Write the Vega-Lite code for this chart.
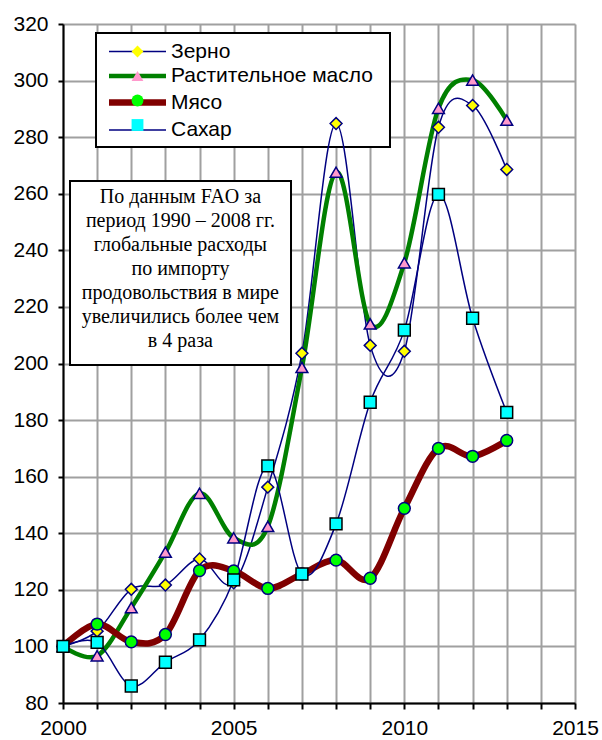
{
  "$schema": "https://vega.github.io/schema/vega-lite/v6.json",
  "width": 512,
  "height": 679,
  "autosize": {"type": "none"},
  "padding": {"left": 63, "top": 24, "right": 27, "bottom": 37},
  "background": "white",
  "config": {
    "view": {"stroke": null},
    "font": "Liberation Sans",
    "axis": {"labelOverlap": false, "labelFlush": false},
    "legend": {"symbolBaseFillColor": {"expr": "['#ffff00','#ff99cc','#00ff00','#00ffff'][indexof(['Зерно','Растительное масло','Мясо','Сахар'], datum.value)]"}}
  },
  "resolve": {"axis": {"x": "independent"}},
  "data": {
    "values": [
      {"year": 2000, "series": "Зерно", "value": 100},
      {"year": 2001, "series": "Зерно", "value": 105.4},
      {"year": 2002, "series": "Зерно", "value": 120.2},
      {"year": 2003, "series": "Зерно", "value": 121.7},
      {"year": 2004, "series": "Зерно", "value": 130.9},
      {"year": 2005, "series": "Зерно", "value": 122.5},
      {"year": 2006, "series": "Зерно", "value": 156.3},
      {"year": 2007, "series": "Зерно", "value": 203.6},
      {"year": 2008, "series": "Зерно", "value": 284.8},
      {"year": 2009, "series": "Зерно", "value": 206.4},
      {"year": 2010, "series": "Зерно", "value": 204.3},
      {"year": 2011, "series": "Зерно", "value": 283.5},
      {"year": 2012, "series": "Зерно", "value": 291.2},
      {"year": 2013, "series": "Зерно", "value": 268.6},
      {"year": 2000, "series": "Растительное масло", "value": 100},
      {"year": 2001, "series": "Растительное масло", "value": 96.7},
      {"year": 2002, "series": "Растительное масло", "value": 113.7},
      {"year": 2003, "series": "Растительное масло", "value": 133.3},
      {"year": 2004, "series": "Растительное масло", "value": 154.1},
      {"year": 2005, "series": "Растительное масло", "value": 138.4},
      {"year": 2006, "series": "Растительное масло", "value": 142.4},
      {"year": 2007, "series": "Растительное масло", "value": 198.6},
      {"year": 2008, "series": "Растительное масло", "value": 267.6},
      {"year": 2009, "series": "Растительное масло", "value": 214},
      {"year": 2010, "series": "Растительное масло", "value": 235.6},
      {"year": 2011, "series": "Растительное масло", "value": 290.2},
      {"year": 2012, "series": "Растительное масло", "value": 300.2},
      {"year": 2013, "series": "Растительное масло", "value": 286},
      {"year": 2000, "series": "Мясо", "value": 100},
      {"year": 2001, "series": "Мясо", "value": 107.9},
      {"year": 2002, "series": "Мясо", "value": 101.6},
      {"year": 2003, "series": "Мясо", "value": 104.2},
      {"year": 2004, "series": "Мясо", "value": 126.8},
      {"year": 2005, "series": "Мясо", "value": 126.7},
      {"year": 2006, "series": "Мясо", "value": 120.5},
      {"year": 2007, "series": "Мясо", "value": 125.6},
      {"year": 2008, "series": "Мясо", "value": 130.5},
      {"year": 2009, "series": "Мясо", "value": 124.1},
      {"year": 2010, "series": "Мясо", "value": 148.8},
      {"year": 2011, "series": "Мясо", "value": 170},
      {"year": 2012, "series": "Мясо", "value": 167.2},
      {"year": 2013, "series": "Мясо", "value": 172.8},
      {"year": 2000, "series": "Сахар", "value": 100},
      {"year": 2001, "series": "Сахар", "value": 101.4},
      {"year": 2002, "series": "Сахар", "value": 86},
      {"year": 2003, "series": "Сахар", "value": 94.4},
      {"year": 2004, "series": "Сахар", "value": 102.3},
      {"year": 2005, "series": "Сахар", "value": 123.5},
      {"year": 2006, "series": "Сахар", "value": 163.8},
      {"year": 2007, "series": "Сахар", "value": 125.6},
      {"year": 2008, "series": "Сахар", "value": 143.3},
      {"year": 2009, "series": "Сахар", "value": 186.3},
      {"year": 2010, "series": "Сахар", "value": 211.8},
      {"year": 2011, "series": "Сахар", "value": 259.8},
      {"year": 2012, "series": "Сахар", "value": 216},
      {"year": 2013, "series": "Сахар", "value": 182.7}
    ]
  },
  "layer": [
    {
      "data": {"values": [{}]},
      "mark": {"type": "rect", "fill": "white", "stroke": "black", "strokeWidth": 2},
      "encoding": {
        "x": {"datum": 2000.967, "type": "quantitative", "axis": null},
        "x2": {"datum": 2009.58},
        "y": {"datum": 316.8, "type": "quantitative"},
        "y2": {"datum": 276.5}
      }
    },
    {
      "data": {"values": [{}]},
      "mark": {"type": "rect", "fill": "white", "stroke": "black", "strokeWidth": 2},
      "encoding": {
        "x": {"datum": 2000.205, "type": "quantitative", "axis": null},
        "x2": {"datum": 2006.68},
        "y": {"datum": 264.5, "type": "quantitative"},
        "y2": {"datum": 199.5}
      }
    },
    {
      "data": {"values": [{}]},
      "mark": {
        "type": "text",
        "text": ["По данным FAO за", "период 1990 – 2008 гг.", "глобальные расходы", "по импорту", "продовольствия в мире", "увеличились более чем", "в 4 раза"],
        "font": "Liberation Serif", "fontSize": 20, "lineHeight": 24.1,
        "align": "center", "baseline": "top", "color": "black"
      },
      "encoding": {
        "x": {"datum": 2003.44, "type": "quantitative", "axis": null},
        "y": {"datum": 262.5, "type": "quantitative"}
      }
    },
    {
      "mark": {"type": "line", "interpolate": "cardinal"},
      "encoding": {
        "x": {
          "field": "year", "type": "quantitative",
          "scale": {"domain": [2000, 2015], "nice": false, "zero": false},
          "axis": {
            "orient": "bottom", "title": null,
            "values": [2000, 2005, 2010, 2015],
            "format": "d",
            "grid": false, "ticks": false,
            "domainColor": "black", "domainWidth": 2,
            "labelFont": "Liberation Sans", "labelFontSize": 21, "labelColor": "black",
            "labelPadding": 14, "labelFlush": false, "labelOverlap": false
          }
        },
        "y": {
          "field": "value", "type": "quantitative",
          "scale": {"domain": [80, 320], "nice": false, "zero": false},
          "axis": {
            "title": null,
            "values": [80, 100, 120, 140, 160, 180, 200, 220, 240, 260, 280, 300, 320],
            "grid": true, "gridColor": "#a0a0a0", "gridWidth": 2,
            "domainColor": "black", "domainWidth": 2,
            "tickColor": "black", "tickWidth": 2, "tickSize": 5,
            "labelFont": "Liberation Sans", "labelFontSize": 21, "labelColor": "black",
            "labelPadding": 10, "labelFlush": false, "labelOverlap": false
          }
        },
        "color": {
          "field": "series", "type": "nominal",
          "scale": {"domain": ["Зерно", "Растительное масло", "Мясо", "Сахар"], "range": ["#000080", "#008000", "#800000", "#000080"]},
          "legend": {
            "orient": "none", "legendX": 33, "legendY": 9, "title": null,
            "padding": 8, "symbolType": "M-5.7,0H5.7", "symbolSize": 100,
            "symbolOffset": 23, "labelOffset": 23, "rowPadding": 2.5,
            "labelFont": "Liberation Sans", "labelFontSize": 21, "labelColor": "black", "labelLimit": 400
          }
        },
        "strokeWidth": {
          "field": "series", "type": "nominal",
          "scale": {"type": "ordinal", "domain": ["Зерно", "Растительное масло", "Мясо", "Сахар"], "range": [1.5, 4.5, 6.5, 1.5]},
          "legend": {
            "orient": "none", "legendX": 33, "legendY": 9, "title": null,
            "padding": 8, "symbolType": "M-5.7,0H5.7", "symbolSize": 100,
            "symbolOffset": 23, "labelOffset": 23, "rowPadding": 2.5,
            "labelFont": "Liberation Sans", "labelFontSize": 21, "labelColor": "black", "labelLimit": 400
          }
        }
      }
    },
    {
      "mark": {"type": "point", "filled": true, "opacity": 1, "strokeWidth": 1.5, "size": 140},
      "encoding": {
        "x": {
          "field": "year", "type": "quantitative",
          "axis": {
            "orient": "bottom", "title": null,
            "values": [2000, 2001, 2002, 2003, 2004, 2005, 2006, 2007, 2008, 2009, 2010, 2011, 2012, 2013, 2014, 2015],
            "grid": true, "gridColor": "#a0a0a0", "gridWidth": 2,
            "labels": false, "domain": false,
            "ticks": true, "tickColor": "black", "tickWidth": 2, "tickSize": 6
          }
        },
        "y": {"field": "value", "type": "quantitative"},
        "shape": {
          "field": "series", "type": "nominal",
          "sort": ["Зерно", "Растительное масло", "Мясо", "Сахар"],
          "scale": {"range": ["diamond", "triangle-up", "circle", "square"]},
          "legend": {
            "orient": "none", "legendX": 33, "legendY": 9, "title": null,
            "padding": 8, "symbolOffset": 23, "labelOffset": 23, "rowPadding": 2.5,
            "labelFont": "Liberation Sans", "labelFontSize": 21, "labelExpr": "' '", "labelLimit": 400,
            "symbolOpacity": 1, "symbolStrokeWidth": 1.5, "symbolSize": 140, "symbolStrokeColor": "#000080"
          }
        },
        "fill": {
          "field": "series", "type": "nominal",
          "sort": ["Зерно", "Растительное масло", "Мясо", "Сахар"],
          "scale": {"range": ["#ffff00", "#ff99cc", "#00ff00", "#00ffff"]},
          "legend": null
        },
        "stroke": {
          "field": "series", "type": "nominal",
          "sort": ["Зерно", "Растительное масло", "Мясо", "Сахар"],
          "scale": {"range": ["#000080", "#000080", "#000080", "#000000"]},
          "legend": null
        }
      }
    }
  ]
}
